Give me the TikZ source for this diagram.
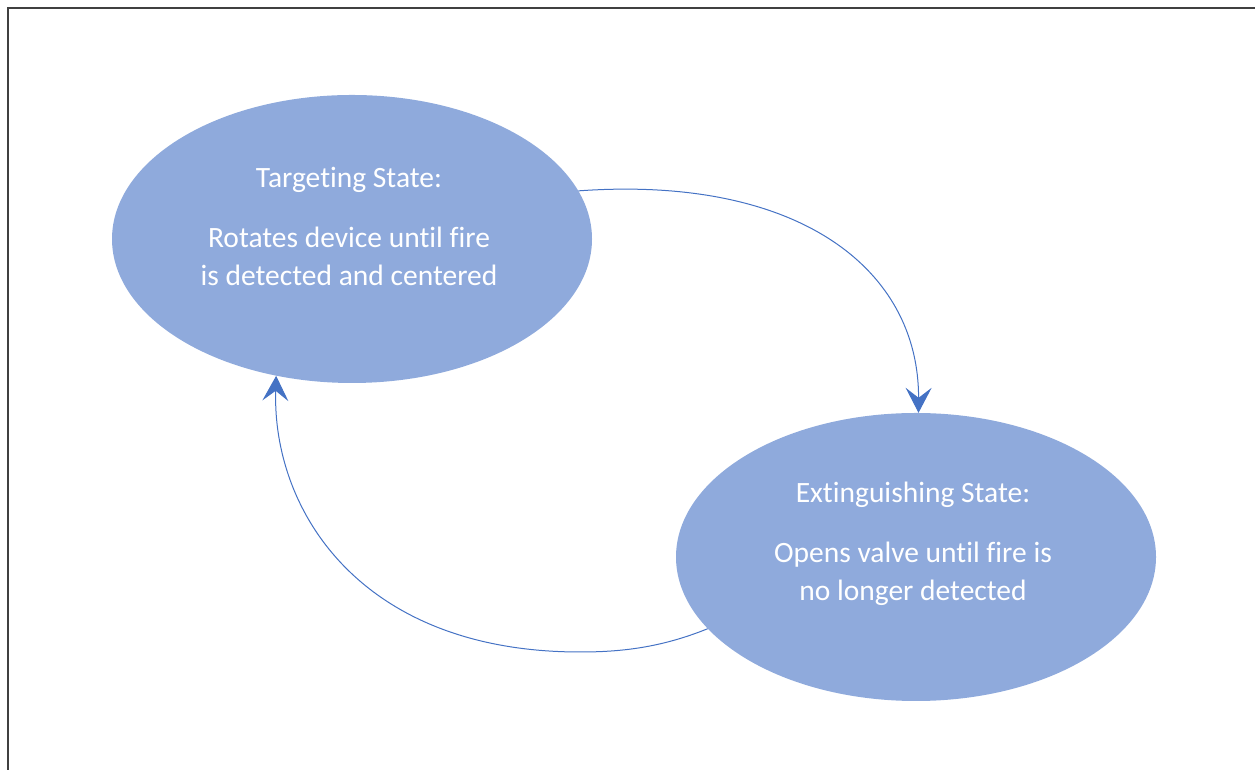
\documentclass[tikz,border=0pt]{standalone}
\usepackage{fontspec}
\setmainfont{Carlito}[Ligatures=NoCommon]
\usetikzlibrary{shapes.geometric,arrows.meta}
\definecolor{statefill}{HTML}{8FAADC}
\definecolor{arrowblue}{HTML}{4472C4}
\definecolor{framegray}{HTML}{404040}
\tikzset{
  statebox/.style={ellipse, fill=statefill, draw=none, minimum width=480pt, minimum height=288pt, inner sep=0pt},
  statetext/.style={text=white, align=center, font=\fontsize{29.5}{38}\selectfont, inner sep=0pt},
  transition/.style={draw=arrowblue, line width=1pt, -{Stealth[length=25pt,width=26pt,inset=10pt]}}
}
\begin{document}
\begin{tikzpicture}[x=1pt,y=1pt]
\useasboundingbox (0,0) rectangle (1255,770);
\coordinate (fa) at (1255,762);
\coordinate (fb) at (8,762);
\coordinate (fc) at (8,0);
\draw[framegray, line width=2pt] (fa) -- (fb) -- (fc);
\node[statebox] (e1) at (352,531) {};
\node[statebox] (e2) at (916,213) {};
\node[statetext] (t1) at (349,544) {Targeting State:\\[22pt]Rotates device until fire\\is detected and centered};
\node[statetext] (t2) at (913,226) {Extinguishing State:\\[22pt]Opens valve until fire is\\no longer detected};
\draw[transition] (e1.12) .. controls (800,595) and (919,500) .. (e2.89);
\draw[transition] (e2.199) .. controls (660,122) and (620,118) .. (580,118) .. controls (360,118) and (272,260) .. (e1.241);
\end{tikzpicture}
\end{document}
